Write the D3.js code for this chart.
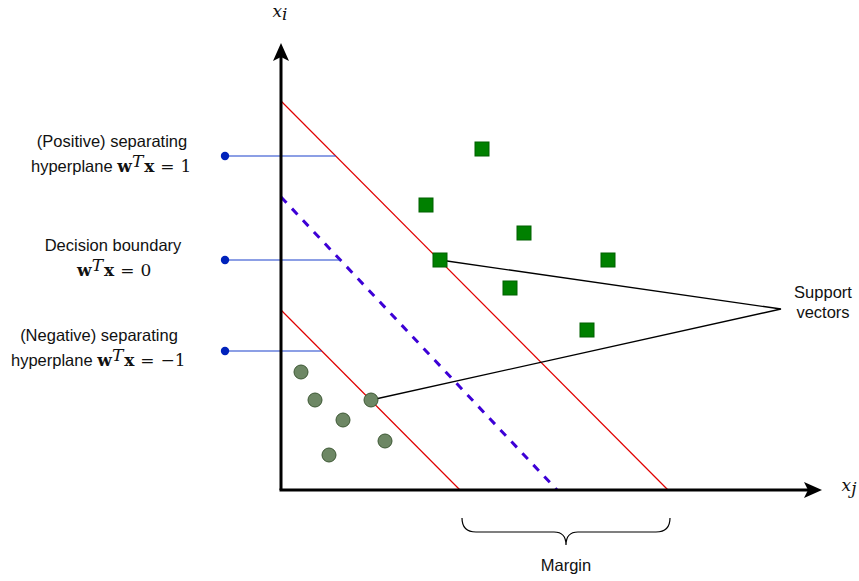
<!DOCTYPE html>
<html><head><meta charset="utf-8">
<script src="https://cdn.jsdelivr.net/npm/d3@7"></script>
<style>
html,body{margin:0;padding:0;background:#fff;}
svg{display:block;}
.lbl{font-family:"Liberation Sans",Arial,sans-serif;font-size:16.5px;fill:#111;}
.m{font-family:"DejaVu Serif","Liberation Serif",serif;font-size:17px;fill:#111;}
</style></head>
<body>
<svg id="c" width="859" height="581"></svg>
<script>
// ---- data (units: abstract feature space, origin at axes corner) ----
const positiveX = [20.1, 14.5, 24.3, 15.9, 32.7, 22.9, 30.6];
const positiveY = [34.1, 28.5, 25.7, 23.0, 23.0, 20.2, 16.0];
const negativeX = [2.0, 3.4, 9.0, 6.2, 10.4, 4.8];
const negativeY = [11.8, 9.0, 9.0, 7.0, 4.9, 3.5];
// hyperplanes: y-intercept and x-intercept
const planeNames = ["positive", "boundary", "negative"];
const planeYIntercept = [38.9, 29.3, 18.0];
const planeXIntercept = [38.7, 27.6, 17.9];
const planeRHS = ["1", "0", "\u22121"];
// callout heights for each hyperplane label
const calloutY = [33.4, 23.0, 13.9];
const calloutDotX = -5.6;
// support vectors: index into positive / negative arrays, plus callout apex
const supportPositive = 3;
const supportNegative = 2;
const supportApex = [50.0, 18.1];
const axisMax = [54.1, 44.7];
const marginRange = [18.1, 38.9];

const svg = d3.select("#c");
const x = d3.scaleLinear().domain([0, 10]).range([281, 381]);
const y = d3.scaleLinear().domain([0, 10]).range([490, 390]);

// hyperplanes
const planeStyle = {
  positive: {stroke: "#e00000", w: 1.2, dash: null},
  boundary: {stroke: "#3d00d6", w: 3, dash: "8,8"},
  negative: {stroke: "#e00000", w: 1.2, dash: null}
};
planeNames.forEach((n, i) => {
  const s = planeStyle[n];
  svg.append("line")
    .attr("x1", x(0)).attr("y1", y(planeYIntercept[i]))
    .attr("x2", x(planeXIntercept[i])).attr("y2", y(0))
    .attr("stroke", s.stroke).attr("stroke-width", s.w)
    .attr("stroke-dasharray", s.dash);
});

// callouts
planeNames.forEach((n, i) => {
  const yy = calloutY[i];
  const xEnd = planeXIntercept[i] * (1 - yy / planeYIntercept[i]);
  svg.append("line")
    .attr("x1", x(calloutDotX)).attr("y1", y(yy))
    .attr("x2", x(xEnd)).attr("y2", y(yy))
    .attr("stroke", "#1a40cc").attr("stroke-width", 1.2);
  svg.append("circle")
    .attr("cx", x(calloutDotX)).attr("cy", y(yy)).attr("r", 4.2)
    .attr("fill", "#0022bb");
});

// axes
const axisG = svg.append("g");
axisG.append("line").attr("x1", x(0)).attr("y1", y(0)).attr("x2", x(0)).attr("y2", y(axisMax[1]) + 12)
  .attr("stroke", "#000").attr("stroke-width", 3);
axisG.append("line").attr("x1", x(0) - 1.5).attr("y1", y(0)).attr("x2", x(axisMax[0]) - 12).attr("y2", y(0))
  .attr("stroke", "#000").attr("stroke-width", 3);
{
  const tx = x(0), ty = y(axisMax[1]);
  axisG.append("path").attr("d", `M${tx},${ty} L${tx+8},${ty+18} L${tx},${ty+14} L${tx-8},${ty+18} Z`).attr("fill", "#000");
  const rx = x(axisMax[0]), ry = y(0);
  axisG.append("path").attr("d", `M${rx},${ry} L${rx-18},${ry-8} L${rx-14},${ry} L${rx-18},${ry+8} Z`).attr("fill", "#000");
}

// support vector callout
const sp = [positiveX[supportPositive], positiveY[supportPositive]];
const sn = [negativeX[supportNegative], negativeY[supportNegative]];
svg.append("polyline")
  .attr("points", [[x(sp[0]), y(sp[1])], [x(supportApex[0]), y(supportApex[1])], [x(sn[0]), y(sn[1])]].map(p => p.join(",")).join(" "))
  .attr("fill", "none").attr("stroke", "#000").attr("stroke-width", 1.3);

// points
svg.selectAll("rect.pos").data(d3.range(positiveX.length)).join("rect")
  .attr("class", "pos")
  .attr("x", i => x(positiveX[i]) - 7).attr("y", i => y(positiveY[i]) - 7)
  .attr("width", 14).attr("height", 14)
  .attr("fill", "#008000").attr("stroke", "#006000").attr("stroke-width", 1);
svg.selectAll("circle.neg").data(d3.range(negativeX.length)).join("circle")
  .attr("class", "neg")
  .attr("cx", i => x(negativeX[i])).attr("cy", i => y(negativeY[i])).attr("r", 7)
  .attr("fill", "#6d8764").attr("stroke", "#3c5733").attr("stroke-width", 1);

// labels: one text element per label, two lines as tspans
const line1 = [
  {text: "(Positive) separating", cx: 112, y: 147},
  {text: "Decision boundary", cx: 113, y: 251},
  {text: "(Negative) separating", cx: 99, y: 341}
];
const line2 = [
  {prefix: "hyperplane ", x: 31, y: 172},
  {prefix: "", x: 77, y: 276},
  {prefix: "hyperplane ", x: 11, y: 366}
];
line1.forEach((d, i) => {
  const L = line2[i];
  const t = svg.append("text");
  t.append("tspan").attr("class", "lbl").attr("x", d.cx).attr("y", d.y).attr("text-anchor", "middle").text(d.text);
  if (L.prefix) t.append("tspan").attr("class", "lbl").attr("x", L.x).attr("y", L.y).text(L.prefix);
  const start = t.append("tspan").attr("class", "m").attr("font-weight", "bold").text("w");
  if (!L.prefix) start.attr("x", L.x).attr("y", L.y);
  t.append("tspan").attr("class", "m").attr("font-style", "italic").attr("font-size", "12px").attr("dy", -5).text("T");
  t.append("tspan").attr("class", "m").attr("font-weight", "bold").attr("dy", 5).attr("dx", 1).text("x");
  t.append("tspan").attr("class", "m").attr("dx", 6).text("=");
  t.append("tspan").attr("class", "m").attr("dx", 6).text(planeRHS[i]);
});

// axis labels
{
  const t = svg.append("text").attr("x", 280).attr("y", 17).attr("text-anchor", "middle");
  t.append("tspan").attr("class", "m").attr("font-style", "italic").text("x");
  t.append("tspan").attr("class", "m").attr("font-style", "italic").attr("font-size", "12px").attr("dy", 3).text("i");
}
{
  const t = svg.append("text").attr("x", 849).attr("y", 491).attr("text-anchor", "middle");
  t.append("tspan").attr("class", "m").attr("font-style", "italic").text("x");
  t.append("tspan").attr("class", "m").attr("font-style", "italic").attr("font-size", "12px").attr("dy", 3).text("j");
}

// support vectors text
svg.append("text").attr("class", "lbl").attr("x", 823).attr("y", 298).attr("text-anchor", "middle").text("Support");
svg.append("text").attr("class", "lbl").attr("x", 823).attr("y", 318).attr("text-anchor", "middle").text("vectors");

// margin brace
{
  const a = x(marginRange[0]), b = x(marginRange[1]), m = (a + b) / 2;
  const top = 518, mid = 532, tip = 545;
  svg.append("path")
    .attr("d", `M${a},${top} Q${a},${mid} ${a+14},${mid} L${m-12},${mid} Q${m},${mid} ${m},${tip} Q${m},${mid} ${m+12},${mid} L${b-14},${mid} Q${b},${mid} ${b},${top}`)
    .attr("fill", "none").attr("stroke", "#000").attr("stroke-width", 1.2);
  svg.append("text").attr("class", "lbl").attr("x", m).attr("y", 571).attr("text-anchor", "middle").text("Margin");
}
</script>
</body></html>
